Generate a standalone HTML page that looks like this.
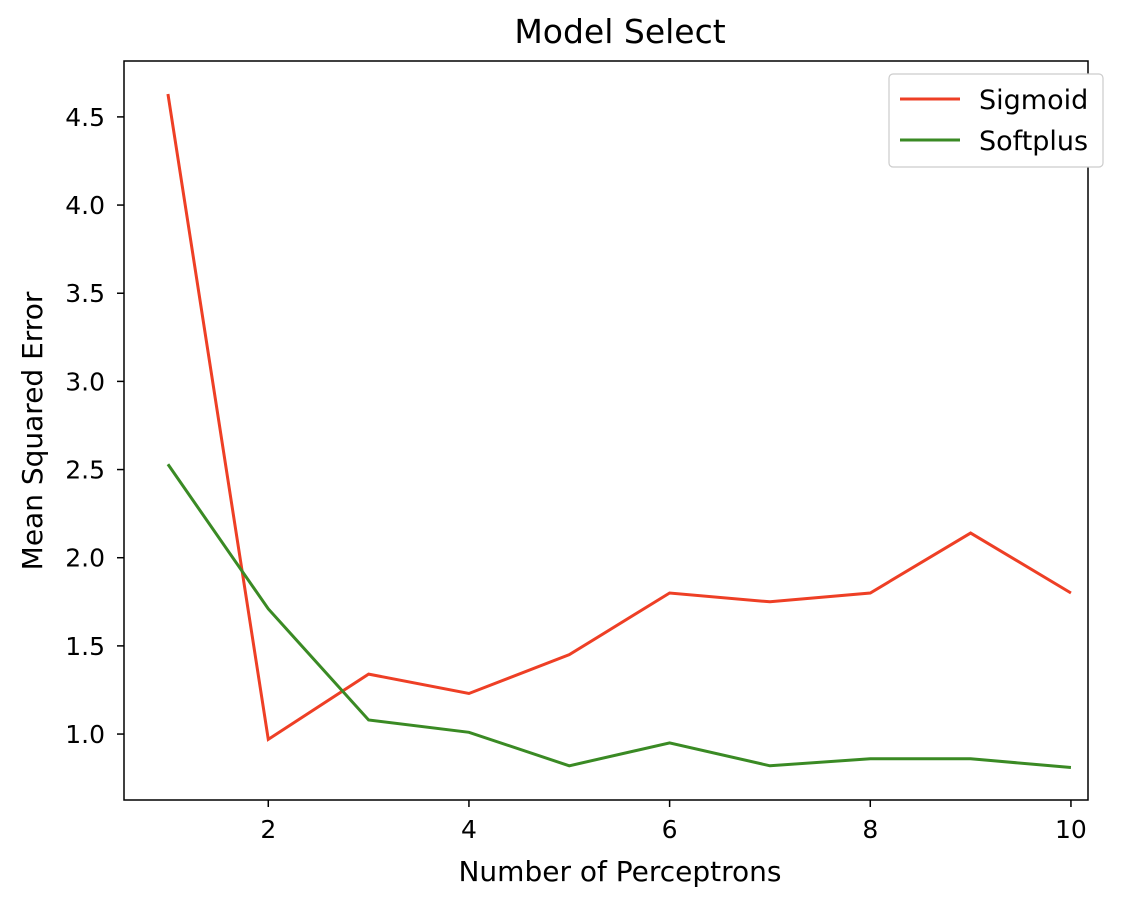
<!DOCTYPE html>
<html><head><meta charset="utf-8"><style>
body{margin:0;background:#fff;}
text{font-family:"DejaVu Sans","Liberation Sans",sans-serif;fill:#000;}
</style></head><body>
<svg id="chart" width="1144" height="898" xmlns="http://www.w3.org/2000/svg">
<rect width="1144" height="898" fill="#fff"/>
<text x="620" y="43" font-size="33" text-anchor="middle">Model Select</text>
<text x="620" y="881" font-size="28" text-anchor="middle">Number of Perceptrons</text>
<text transform="translate(42,431) rotate(-90)" font-size="28" text-anchor="middle">Mean Squared Error</text>
<g id="ticks"></g>
<g id="lines"></g>
<rect x="124" y="61" width="964" height="739" fill="none" stroke="#000" stroke-width="1.5"/>
<g>
<rect x="889" y="74" width="214" height="93" rx="4" fill="#fff" stroke="#ccc" stroke-width="1.2"/>
<line x1="900" y1="99" x2="960" y2="99" stroke="#ee3f25" stroke-width="3"/>
<text x="979" y="109" font-size="27">Sigmoid</text>
<line x1="900" y1="140" x2="960" y2="140" stroke="#3a8a24" stroke-width="3"/>
<text x="979" y="150" font-size="27">Softplus</text>
</g>
</svg>
<script>
const xs=[1,2,3,4,5,6,7,8,9,10];
const sigmoid=[4.63,0.97,1.34,1.23,1.45,1.80,1.75,1.80,2.14,1.80];
const softplus=[2.53,1.71,1.08,1.01,0.82,0.95,0.82,0.86,0.86,0.81];
const xTicks=[2,4,6,8,10];
const yTicks=[1.0,1.5,2.0,2.5,3.0,3.5,4.0,4.5];
const X0=124,X1=1088,Y0=800,Y1=61,xmin=0.562,xmax=10.17,ymin=0.626,ymax=4.817;
const sx=v=>X0+(v-xmin)/(xmax-xmin)*(X1-X0);
const sy=v=>Y0-(v-ymin)/(ymax-ymin)*(Y0-Y1);
const NS="http://www.w3.org/2000/svg";
const tg=document.getElementById('ticks'),lg=document.getElementById('lines');
function mk(t,a,p){const e=document.createElementNS(NS,t);for(const k in a)e.setAttribute(k,a[k]);p.appendChild(e);return e;}
xTicks.forEach(v=>{
 const l=mk('line',{x1:sx(v),x2:sx(v),y1:800,y2:807,stroke:'#000','stroke-width':1.5},tg);
 
 
 const t=mk('text',{x:sx(v),y:838,'font-size':25,'text-anchor':'middle'},tg);t.textContent=v;
 
 
});
yTicks.forEach(v=>{
 const l=mk('line',{x1:117,x2:124,y1:sy(v),y2:sy(v),stroke:'#000','stroke-width':1.5},tg);
 
 
 const t=mk('text',{x:105,y:sy(v)+9,'font-size':25,'text-anchor':'end'},tg);t.textContent=v.toFixed(1);
 
 
});
function line(d,c,n){
 const p=mk('polyline',{points:d.map((v,i)=>sx(xs[i])+','+sy(v)).join(' '),fill:'none',stroke:c,'stroke-width':3},lg);
 
 
}
line(sigmoid,'#ee3f25','sigmoid-line');
line(softplus,'#3a8a24','softplus-line');
</script>
</body></html>
